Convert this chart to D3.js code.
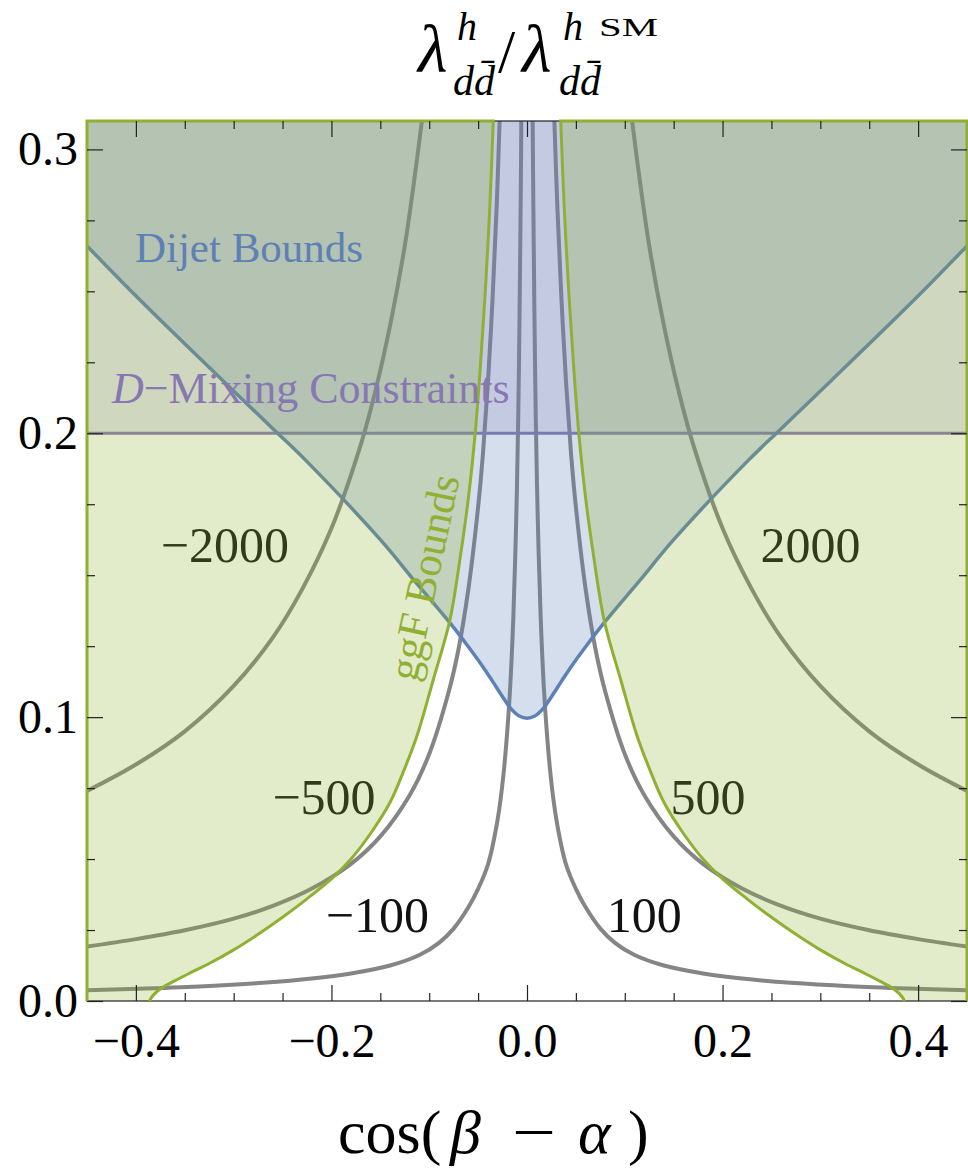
<!DOCTYPE html>
<html>
<head>
<meta charset="utf-8">
<script src="https://cdn.jsdelivr.net/npm/d3@7"></script>
<style>
  body { margin: 0; background: #fff; }
  svg text { font-family: "Liberation Serif", "Times New Roman", serif; }
</style>
</head>
<body>
<svg id="chart" width="968" height="1168"></svg>
<script>
    // ---- data: cos(beta-alpha) on x, y axis value on y ----
    const xMajorTicks = [-0.4, -0.2, 0, 0.2, 0.4];
    const xMinorTicks = [-0.35, -0.3, -0.25, -0.15, -0.1, -0.05, 0.05, 0.1, 0.15, 0.25, 0.3, 0.35];
    const yMajorTicks = [0, 0.1, 0.2, 0.3];
    const yMinorTicks = [0.025, 0.05, 0.075, 0.125, 0.15, 0.175, 0.225, 0.25, 0.275];

    // contours of lambda ratio (gray lines)
    const contour100R = [[0.0058,0.31],[0.0065,0.28],[0.0075,0.245],[0.009,0.205],[0.011,0.17],[0.014,0.135],[0.018,0.106],[0.024,0.08],[0.03,0.064],[0.04,0.048],[0.05,0.0395],[0.06,0.033],[0.075,0.0255],[0.09,0.0205],[0.11,0.0162],[0.14,0.0125],[0.18,0.0097],[0.22,0.0079],[0.27,0.0064],[0.33,0.0052],[0.39,0.0044],[0.45,0.0038]];
    const contour100L = [[-0.0058,0.31],[-0.0065,0.28],[-0.0075,0.245],[-0.009,0.205],[-0.011,0.17],[-0.014,0.135],[-0.018,0.106],[-0.024,0.08],[-0.03,0.064],[-0.04,0.048],[-0.05,0.0395],[-0.06,0.033],[-0.075,0.0255],[-0.09,0.0205],[-0.11,0.0162],[-0.14,0.0125],[-0.18,0.0097],[-0.22,0.0079],[-0.27,0.0064],[-0.33,0.0052],[-0.39,0.0044],[-0.45,0.0038]];
    const contour500R = [[0.028,0.31],[0.031,0.28],[0.035,0.249],[0.04,0.2175],[0.045,0.193],[0.05,0.174],[0.06,0.145],[0.07,0.124],[0.08,0.109],[0.1,0.087],[0.12,0.0725],[0.15,0.058],[0.18,0.0483],[0.22,0.0396],[0.26,0.0335],[0.3,0.029],[0.35,0.0249],[0.4,0.0218],[0.45,0.0192]];
    const contour500L = [[-0.028,0.31],[-0.031,0.28],[-0.035,0.249],[-0.04,0.2175],[-0.045,0.193],[-0.05,0.174],[-0.06,0.145],[-0.07,0.124],[-0.08,0.109],[-0.1,0.087],[-0.12,0.0725],[-0.15,0.058],[-0.18,0.0483],[-0.22,0.0396],[-0.26,0.0335],[-0.3,0.029],[-0.35,0.0249],[-0.4,0.0218],[-0.45,0.0192]];
    const contour2000R = [[0.1075,0.31],[0.115,0.29],[0.125,0.266],[0.14,0.238],[0.155,0.215],[0.17,0.196],[0.2,0.1665],[0.23,0.145],[0.26,0.128],[0.3,0.111],[0.35,0.095],[0.4,0.0833],[0.45,0.074]];
    const contour2000L = [[-0.1075,0.31],[-0.115,0.29],[-0.125,0.266],[-0.14,0.238],[-0.155,0.215],[-0.17,0.196],[-0.2,0.1665],[-0.23,0.145],[-0.26,0.128],[-0.3,0.111],[-0.35,0.095],[-0.4,0.0833],[-0.45,0.074]];

    // ggF bound (green), from top down
    const ggfBoundR = [[0.0345,0.31],[0.038,0.28],[0.043,0.248],[0.048,0.222],[0.053,0.2],[0.06,0.177],[0.068,0.157],[0.079,0.134],[0.096,0.113],[0.112,0.094],[0.125,0.082],[0.14,0.07],[0.16,0.059],[0.18,0.05],[0.2,0.043],[0.225,0.036],[0.25,0.0295],[0.275,0.0235],[0.3,0.018],[0.325,0.0132],[0.345,0.0098],[0.362,0.0068],[0.374,0.0045],[0.381,0.0025],[0.3845,0.001],[0.386,0]];
    const ggfBoundL = [[-0.0345,0.31],[-0.038,0.28],[-0.043,0.248],[-0.048,0.222],[-0.053,0.2],[-0.06,0.177],[-0.068,0.157],[-0.079,0.134],[-0.096,0.113],[-0.112,0.094],[-0.125,0.082],[-0.14,0.07],[-0.16,0.059],[-0.18,0.05],[-0.2,0.043],[-0.225,0.036],[-0.25,0.0295],[-0.275,0.0235],[-0.3,0.018],[-0.325,0.0132],[-0.345,0.0098],[-0.362,0.0068],[-0.374,0.0045],[-0.381,0.0025],[-0.3845,0.001],[-0.386,0]];

    // dijet bound (blue), left to right
    const dijetBound = [[-0.45,0.266],[-0.396,0.247],[-0.311,0.2185],[-0.258,0.201],[-0.225,0.19],[-0.15,0.1625],[-0.115,0.148],[-0.08,0.1337],[-0.06,0.1248],[-0.045,0.1177],[-0.035,0.1125],[-0.025,0.1072],[-0.016,0.1028],[-0.008,0.1004],[0,0.0996],[0.008,0.1004],[0.016,0.1028],[0.025,0.1072],[0.035,0.1125],[0.045,0.1177],[0.06,0.1248],[0.08,0.1337],[0.115,0.148],[0.15,0.1625],[0.225,0.19],[0.258,0.201],[0.311,0.2185],[0.396,0.247],[0.45,0.266]];

    // D-mixing constraint (purple): excluded above this value
    const dMixingBound = 0.2;

    const contourLabels = ["\u22122000", "2000", "\u2212500", "500", "\u2212100", "100"];
    const contourLabelAt = [[-0.309,0.1606],[0.290,0.1606],[-0.2076,0.0719],[0.185,0.0719],[-0.153,0.0303],[0.12,0.0303]];

    // ---- layout ----
    const plot = { left: 87, right: 967, top: 121, bottom: 1001 };
    const x = d3.scaleLinear().domain([-0.45, 0.45]).range([plot.left, plot.right]);
    const y = d3.scaleLinear().domain([0, 0.31]).range([plot.bottom, plot.top]);

    const colBlue = "#5E81B5", colGreen = "#8FB032", colPurple = "#8778B3", colGray = "#858585";

    const svg = d3.select("#chart");
    const defs = svg.append("defs");
    defs.append("clipPath").attr("id", "clip")
        .append("rect").attr("x", plot.left).attr("y", plot.top)
        .attr("width", plot.right - plot.left).attr("height", plot.bottom - plot.top);
    defs.append("clipPath").attr("id", "clipWide")
        .append("rect").attr("x", plot.left - 2).attr("y", plot.top - 2)
        .attr("width", plot.right - plot.left + 4).attr("height", plot.bottom - plot.top + 2);

    const line = d3.line().x(d => x(d[0])).y(d => y(d[1])).curve(d3.curveCatmullRom.alpha(0.5));

    const g = svg.append("g").attr("clip-path", "url(#clip)");

    // contour lines (drawn first, the shaded bounds lie over them)
    [contour100L, contour100R, contour500L, contour500R, contour2000L, contour2000R].forEach(c => {
        g.append("path").attr("d", line(c))
            .attr("fill", "none").attr("stroke", colGray).attr("stroke-width", 4);
    });

    g.selectAll(".clabel")
        .data(contourLabels)
        .enter().append("text")
        .attr("class", "clabel")
        .attr("x", (d, i) => x(contourLabelAt[i][0]))
        .attr("y", (d, i) => y(contourLabelAt[i][1]) + 17)
        .attr("text-anchor", "middle")
        .attr("font-size", 50)
        .attr("fill", "#111")
        .text(d => d);

    // D-mixing region
    g.append("rect")
        .attr("x", plot.left).attr("width", plot.right - plot.left)
        .attr("y", y(0.31)).attr("height", y(dMixingBound) - y(0.31))
        .attr("fill", colPurple).attr("fill-opacity", 0.2);
    g.append("line")
        .attr("x1", plot.left).attr("x2", plot.right)
        .attr("y1", y(dMixingBound)).attr("y2", y(dMixingBound))
        .attr("stroke", colPurple).attr("stroke-width", 3);

    // dijet region
    const dijetPath = line(dijetBound);
    g.append("path")
        .attr("d", dijetPath + `L${x(0.45)},${y(0.31)}L${x(-0.45)},${y(0.31)}Z`)
        .attr("fill", colBlue).attr("fill-opacity", 0.26);
    g.append("path").attr("d", dijetPath)
        .attr("fill", "none").attr("stroke", colBlue).attr("stroke-width", 3.5);

    // ggF regions (outside the green curves)
    const ggfL = `M${x(-0.45)},${y(0)}L${x(-0.45)},${y(0.31)}L` + line(ggfBoundL).slice(1);
    const ggfR = `M${x(0.45)},${y(0)}L${x(0.45)},${y(0.31)}L` + line(ggfBoundR).slice(1);
    [ggfL, ggfR].forEach(p => {
        g.append("path").attr("d", p + "Z")
            .attr("fill", colGreen).attr("fill-opacity", 0.26);
    });

    // frame
    svg.append("rect")
        .attr("x", plot.left).attr("y", plot.top)
        .attr("width", plot.right - plot.left).attr("height", plot.bottom - plot.top)
        .attr("fill", "none").attr("stroke", "#222").attr("stroke-width", 1.2);

    const gw = svg.append("g").attr("clip-path", "url(#clipWide)");
    [ggfL, ggfR].forEach(p => {
        gw.append("path").attr("d", p)
            .attr("fill", "none").attr("stroke", colGreen).attr("stroke-width", 3);
    });

    // ---- axes, ticks inward on all sides ----
    function styleAxis(sel) {
        sel.select(".domain").remove();
        sel.selectAll("line").attr("stroke", "#222").attr("stroke-width", 1.2);
        sel.selectAll("text").attr("font-family", "Liberation Serif, serif").attr("font-size", 48).attr("fill", "#000");
    }
    const fmt = d3.format(".1f");

    svg.append("g").attr("transform", `translate(0,${plot.bottom})`)
        .call(d3.axisBottom(x).tickValues(xMajorTicks).tickSize(-16).tickPadding(22).tickFormat(fmt))
        .call(styleAxis);
    svg.append("g").attr("transform", `translate(0,${plot.bottom})`)
        .call(d3.axisBottom(x).tickValues(xMinorTicks).tickSize(-8).tickFormat(""))
        .call(styleAxis);
    svg.append("g").attr("transform", `translate(0,${plot.top})`)
        .call(d3.axisTop(x).tickValues(xMajorTicks).tickSize(-16).tickFormat(""))
        .call(styleAxis);
    svg.append("g").attr("transform", `translate(0,${plot.top})`)
        .call(d3.axisTop(x).tickValues(xMinorTicks).tickSize(-8).tickFormat(""))
        .call(styleAxis);

    svg.append("g").attr("transform", `translate(${plot.left},0)`)
        .call(d3.axisLeft(y).tickValues(yMajorTicks).tickSize(-16).tickPadding(9).tickFormat(fmt))
        .call(styleAxis);
    svg.append("g").attr("transform", `translate(${plot.left},0)`)
        .call(d3.axisLeft(y).tickValues(yMinorTicks).tickSize(-8).tickFormat(""))
        .call(styleAxis);
    svg.append("g").attr("transform", `translate(${plot.right},0)`)
        .call(d3.axisRight(y).tickValues(yMajorTicks).tickSize(-16).tickFormat(""))
        .call(styleAxis);
    svg.append("g").attr("transform", `translate(${plot.right},0)`)
        .call(d3.axisRight(y).tickValues(yMinorTicks).tickSize(-8).tickFormat(""))
        .call(styleAxis);

    // ---- region labels ----
    svg.append("text")
        .attr("x", x(-0.401)).attr("y", y(0.2603))
        .attr("font-size", 43).attr("fill", colBlue)
        .text("Dijet Bounds");

    const dm = svg.append("text")
        .attr("x", x(-0.4244)).attr("y", y(0.2106))
        .attr("font-size", 44).attr("fill", colPurple);
    dm.append("tspan").attr("font-style", "italic").text("D");
    dm.append("tspan").text("\u2212Mixing Constraints");

    svg.append("text")
        .attr("transform", `translate(${x(-0.106)},${y(0.1493)}) rotate(-78)`)
        .attr("text-anchor", "middle").attr("dy", "0.35em")
        .attr("font-size", 43).attr("fill", colGreen)
        .text("ggF Bounds");

    // ---- title ----
    const title = svg.append("g").attr("fill", "#000");
    title.append("text").attr("x", 418).attr("y", 72).attr("font-size", 68).attr("font-style", "italic").text("\u03bb");
    title.append("text").attr("x", 457).attr("y", 40).attr("font-size", 40).attr("font-style", "italic").text("h");
    title.append("text").attr("x", 453).attr("y", 95).attr("font-size", 42).attr("font-style", "italic").text("dd\u0304");
    title.append("text").attr("x", 498).attr("y", 72).attr("font-size", 62).text("/");
    title.append("text").attr("x", 522).attr("y", 72).attr("font-size", 68).attr("font-style", "italic").text("\u03bb");
    title.append("text").attr("x", 563).attr("y", 40).attr("font-size", 40).attr("font-style", "italic").text("h");
    title.append("text").attr("x", 599).attr("y", 36).attr("font-size", 26)
        .attr("textLength", 59).attr("lengthAdjust", "spacingAndGlyphs").text("SM");
    title.append("text").attr("x", 559).attr("y", 95).attr("font-size", 42).attr("font-style", "italic").text("dd\u0304");

    // ---- x axis title ----
    const xt = svg.append("text").attr("y", 1153).attr("font-size", 62);
    xt.append("tspan").attr("x", 338).text("cos(");
    xt.append("tspan").attr("x", 450).attr("font-style", "italic").text("\u03b2");
    xt.append("tspan").attr("x", 512).attr("textLength", 44).attr("lengthAdjust", "spacingAndGlyphs").text("\u2212");
    xt.append("tspan").attr("x", 578).attr("font-style", "italic").text("\u03b1");
    xt.append("tspan").attr("x", 628).text(")");
</script>
</body>
</html>
